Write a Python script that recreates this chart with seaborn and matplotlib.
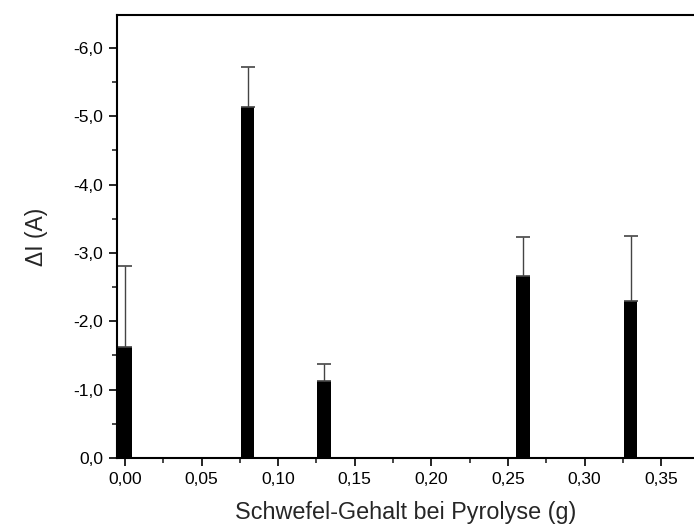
import matplotlib
matplotlib.use("Agg")
import matplotlib.pyplot as plt
from matplotlib.ticker import MultipleLocator, FuncFormatter
import seaborn as sns
import pandas as pd
import numpy as np

# data
schwefel = [0.00, 0.08, 0.13, 0.26, 0.33]
delta_i = [-1.63, -5.14, -1.13, -2.66, -2.30]
err = [1.18, 0.58, 0.25, 0.58, 0.95]

df = pd.DataFrame({"x": schwefel, "y": delta_i})

sns.set_style("ticks")
plt.rcParams["font.family"] = ["Liberation Sans", "DejaVu Sans"]

fig = plt.figure(figsize=(6.94, 5.27), dpi=100)
ax = fig.add_axes([117/694, 69/527, 577/694, 443/527])

sns.barplot(data=df, x="x", y="y", native_scale=True, width=0.18,
            color="black", saturation=1, errorbar=None, ax=ax,
            edgecolor="black", linewidth=0)
ax.errorbar(schwefel, delta_i, yerr=[err, np.zeros(len(err))], fmt="none",
            ecolor="#444444", elinewidth=1.0, capsize=5, capthick=1.2)

ax.set_xlim(-0.0052, 0.3714)
ax.set_ylim(0, -6.48)

ax.xaxis.set_major_locator(MultipleLocator(0.05))
ax.xaxis.set_minor_locator(MultipleLocator(0.025))
ax.yaxis.set_major_locator(MultipleLocator(1.0))
ax.yaxis.set_minor_locator(MultipleLocator(0.5))
ax.xaxis.set_major_formatter(FuncFormatter(lambda v, p: f"{v:.2f}".replace(".", ",").replace("-0,00", "0,00")))
ax.yaxis.set_major_formatter(FuncFormatter(lambda v, p: ("0,0" if abs(v) < 1e-9 else f"{v:.1f}".replace(".", ","))))

for s in ["left", "bottom", "top"]:
    ax.spines[s].set_linewidth(1.5)
    ax.spines[s].set_color("black")
ax.spines["right"].set_visible(False)

ax.tick_params(axis="both", which="major", direction="out", length=6, width=1.2,
               labelsize=12.5, colors="black", pad=4)
ax.tick_params(axis="both", which="minor", direction="out", length=3.5, width=1.2)
ax.tick_params(axis="x", which="both", top=True)
for t in ax.xaxis.get_major_ticks() + ax.xaxis.get_minor_ticks():
    t.tick2line.set_markersize(1)

ax.set_xlabel("Schwefel-Gehalt bei Pyrolyse (g)", fontsize=16.8, labelpad=10)
ax.set_ylabel("ΔI (A)", fontsize=16.5, labelpad=18)

fig.savefig("out.png", dpi=100)
